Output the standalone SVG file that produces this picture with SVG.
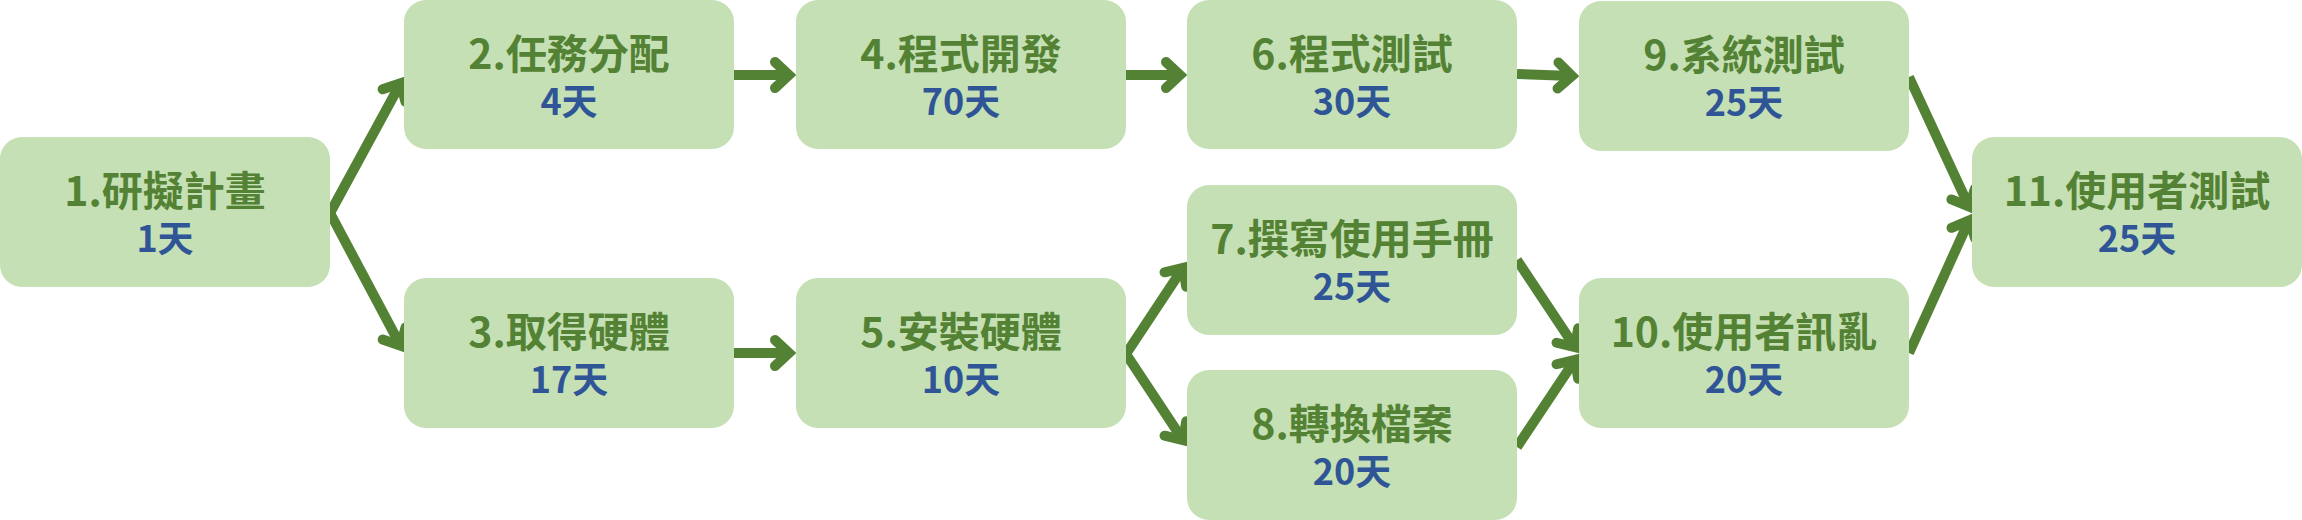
<svg xmlns="http://www.w3.org/2000/svg" width="2302" height="520" viewBox="0 0 2302 520">
<style>
.box{fill:#C5E0B4;}
.t{font-family:"Noto Sans CJK TC","Noto Sans CJK SC",sans-serif;font-weight:bold;text-anchor:middle;}
.title{font-size:41px;fill:#548235;}
.days{font-size:36px;fill:#2F5597;}
.c{stroke:#548235;stroke-width:10;fill:none;marker-end:url(#ah);}
</style>
<defs>
<marker id="ah" markerUnits="userSpaceOnUse" orient="auto" refX="0" refY="0" markerWidth="60" markerHeight="60" viewBox="-30 -30 60 60" overflow="visible">
<path d="M-14,-13 L0,0 L-14,13" fill="none" stroke="#548235" stroke-width="10" stroke-linecap="round" stroke-linejoin="miter"/>
</marker>
</defs>
<g id="connectors">
<line class="c" x1="330" y1="213" x2="400.7" y2="83.2"/>
<line class="c" x1="330" y1="213" x2="400.7" y2="345.8"/>
<line class="c" x1="734" y1="75" x2="789" y2="75"/>
<line class="c" x1="1126" y1="75" x2="1180" y2="75"/>
<line class="c" x1="1517" y1="74" x2="1572" y2="76"/>
<line class="c" x1="734" y1="353" x2="789" y2="353"/>
<line class="c" x1="1126" y1="354" x2="1183.1" y2="267.8"/>
<line class="c" x1="1126" y1="354" x2="1183.1" y2="440.2"/>
<line class="c" x1="1517" y1="260" x2="1575.1" y2="347.2"/>
<line class="c" x1="1517" y1="447" x2="1575.1" y2="359.8"/>
<line class="c" x1="1909" y1="77" x2="1969.1" y2="206.7"/>
<line class="c" x1="1909" y1="353" x2="1969.1" y2="220.4"/>
</g>
<g id="n1"><rect class="box" x="0" y="137" width="330" height="150" rx="22"/><text class="t title" x="165" y="206">1.研擬計畫</text><text class="t days" x="165" y="252">1天</text></g>
<g id="n2"><rect class="box" x="404" y="0" width="330" height="149" rx="22"/><text class="t title" x="569" y="69">2.任務分配</text><text class="t days" x="569" y="115">4天</text></g>
<g id="n3"><rect class="box" x="404" y="278" width="330" height="150" rx="22"/><text class="t title" x="569" y="347">3.取得硬體</text><text class="t days" x="569" y="393">17天</text></g>
<g id="n4"><rect class="box" x="796" y="0" width="330" height="149" rx="22"/><text class="t title" x="961" y="69">4.程式開發</text><text class="t days" x="961" y="115">70天</text></g>
<g id="n5"><rect class="box" x="796" y="278" width="330" height="150" rx="22"/><text class="t title" x="961" y="347">5.安裝硬體</text><text class="t days" x="961" y="393">10天</text></g>
<g id="n6"><rect class="box" x="1187" y="0" width="330" height="149" rx="22"/><text class="t title" x="1352" y="69">6.程式測試</text><text class="t days" x="1352" y="115">30天</text></g>
<g id="n7"><rect class="box" x="1187" y="185" width="330" height="150" rx="22"/><text class="t title" x="1352" y="254">7.撰寫使用手冊</text><text class="t days" x="1352" y="300">25天</text></g>
<g id="n8"><rect class="box" x="1187" y="370" width="330" height="150" rx="22"/><text class="t title" x="1352" y="439">8.轉換檔案</text><text class="t days" x="1352" y="485">20天</text></g>
<g id="n9"><rect class="box" x="1579" y="1" width="330" height="150" rx="22"/><text class="t title" x="1744" y="70">9.系統測試</text><text class="t days" x="1744" y="116">25天</text></g>
<g id="n10"><rect class="box" x="1579" y="278" width="330" height="150" rx="22"/><text class="t title" x="1744" y="347">10.使用者訊亂</text><text class="t days" x="1744" y="393">20天</text></g>
<g id="n11"><rect class="box" x="1972" y="137" width="330" height="150" rx="22"/><text class="t title" x="2137" y="206">11.使用者測試</text><text class="t days" x="2137" y="252">25天</text></g>
</svg>
